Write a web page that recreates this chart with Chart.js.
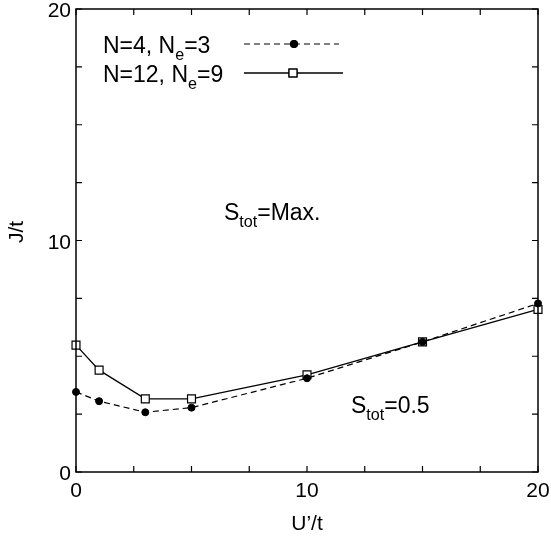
<!DOCTYPE html>
<html>
<head>
<meta charset="utf-8">
<script src="https://cdn.jsdelivr.net/npm/chart.js@4.4.1/dist/chart.umd.min.js"></script>
<style>
  html, body { margin: 0; padding: 0; background: #fff; }
  #wrap { width: 551px; height: 541px; position: relative; }
</style>
</head>
<body>
<div id="wrap"><canvas id="myChart" width="551" height="541"></canvas></div>
<script>
// U'/t values where J/t was computed
const uValues = [0, 1, 3, 5, 10, 15, 20];
// N=4, Ne=3 (dashed, filled circles)
const jSmall = [3.46, 3.06, 2.58, 2.78, 4.05, 5.62, 7.28];
// N=12, Ne=9 (solid, open squares)
const jLarge = [5.48, 4.40, 3.16, 3.16, 4.20, 5.62, 7.02];

const xTickLabels = [0, 10, 20];
const yTickLabels = [0, 10, 20];
const minorStep = 2.5;

const FONT = '"Liberation Sans", Arial, sans-serif';

// draws text made of normal + subscript pieces, left aligned at baseline y
function drawRich(ctx, parts, x, y, size) {
  let cx = x;
  parts.forEach(p => {
    const fs = p.sub ? size * 0.7 : size;
    ctx.font = fs + 'px ' + FONT;
    ctx.fillText(p.t, cx, p.sub ? y + size * 0.29 : y);
    cx += ctx.measureText(p.t).width;
  });
}

const framePlugin = {
  id: 'frame',
  afterDraw(chart) {
    const ctx = chart.ctx;
    const a = chart.chartArea;
    const xs = chart.scales.x, ys = chart.scales.y;
    ctx.save();
    ctx.strokeStyle = '#000';
    ctx.fillStyle = '#000';
    ctx.lineWidth = 1.5;
    ctx.strokeRect(a.left, a.top, a.right - a.left, a.bottom - a.top);

    // inward ticks on all four sides
    const tl = 6;
    ctx.lineWidth = 1.2;
    ctx.beginPath();
    for (let v = 0; v <= 20 + 1e-9; v += minorStep) {
      const px = xs.getPixelForValue(v);
      ctx.moveTo(px, a.bottom); ctx.lineTo(px, a.bottom - tl);
      ctx.moveTo(px, a.top); ctx.lineTo(px, a.top + tl);
      const py = ys.getPixelForValue(v);
      ctx.moveTo(a.left, py); ctx.lineTo(a.left + tl, py);
      ctx.moveTo(a.right, py); ctx.lineTo(a.right - tl, py);
    }
    ctx.stroke();

    // tick labels
    ctx.font = '21px ' + FONT;
    ctx.textAlign = 'center';
    ctx.textBaseline = 'alphabetic';
    xTickLabels.forEach(v => {
      ctx.fillText(String(v), xs.getPixelForValue(v), a.bottom + 25);
    });
    ctx.textAlign = 'right';
    yTickLabels.forEach(v => {
      ctx.fillText(String(v), a.left - 5, ys.getPixelForValue(v) + 8);
    });

    // axis titles
    ctx.textAlign = 'center';
    ctx.fillText('U\u2019/t', (a.left + a.right) / 2, a.bottom + 58);
    ctx.save();
    ctx.translate(23, 232);
    ctx.rotate(-Math.PI / 2);
    ctx.fillText('J/t', 0, 0);
    ctx.restore();

    // annotations
    ctx.textAlign = 'left';
    drawRich(ctx, [{t: 'S'}, {t: 'tot', sub: true}, {t: '=Max.'}], 224, 220, 23);
    drawRich(ctx, [{t: 'S'}, {t: 'tot', sub: true}, {t: '=0.5'}], 351, 413, 23);

    // legend
    const legend = [
      {parts: [{t: 'N=4, N'}, {t: 'e', sub: true}, {t: '=3'}], y: 44, x1: 244, x2: 339, mx: 294, ds: chart.data.datasets[0]},
      {parts: [{t: 'N=12, N'}, {t: 'e', sub: true}, {t: '=9'}], y: 73, x1: 244, x2: 343, mx: 293, ds: chart.data.datasets[1]}
    ];
    legend.forEach(l => {
      drawRich(ctx, l.parts, 103, l.y + 9, 23);
      ctx.lineWidth = l.ds.borderWidth;
      ctx.setLineDash(l.ds.borderDash || []);
      ctx.beginPath();
      ctx.moveTo(l.x1, l.y); ctx.lineTo(l.x2, l.y);
      ctx.stroke();
      ctx.setLineDash([]);
      Chart.helpers.drawPoint(ctx, {
        pointStyle: l.ds.pointStyle,
        radius: l.ds.pointRadius,
        borderWidth: l.ds.pointBorderWidth,
        rotation: 0
      }, l.mx, l.y);
      ctx.fillStyle = l.ds.pointBackgroundColor;
      ctx.strokeStyle = '#000';
      ctx.lineWidth = l.ds.pointBorderWidth;
      ctx.fill();
      ctx.stroke();
      ctx.fillStyle = '#000';
    });
    ctx.restore();
  }
};

const ctx = document.getElementById('myChart').getContext('2d');

const data = {
  datasets: [{
    label: 'N=4, Ne=3',
    data: uValues.map((u, i) => ({x: u, y: jSmall[i]})),
    showLine: true,
    clip: false,
    borderColor: '#000',
    borderWidth: 1.2,
    borderDash: [6, 4],
    pointStyle: 'circle',
    pointRadius: 3.5,
    pointBorderWidth: 1,
    pointBackgroundColor: '#000',
    pointBorderColor: '#000'
  }, {
    label: 'N=12, Ne=9',
    data: uValues.map((u, i) => ({x: u, y: jLarge[i]})),
    showLine: true,
    clip: false,
    borderColor: '#000',
    borderWidth: 1.3,
    pointStyle: 'rect',
    pointRadius: 5.6,
    pointBorderWidth: 1.2,
    pointBackgroundColor: '#fff',
    pointBorderColor: '#000'
  }]
};

const config = {
  type: 'scatter',
  data: data,
  options: {
    responsive: false,
    animation: false,
    layout: { padding: { top: 9, right: 13, left: 0, bottom: 0 } },
    plugins: { legend: { display: false }, tooltip: { enabled: false } },
    scales: {
      x: {
        type: 'linear', min: 0, max: 20,
        grid: { display: false }, border: { display: false },
        ticks: { display: false },
        afterFit(scale) { scale.height = 69; }
      },
      y: {
        type: 'linear', min: 0, max: 20,
        grid: { display: false }, border: { display: false },
        ticks: { display: false },
        afterFit(scale) { scale.width = 76; }
      }
    }
  },
  plugins: [framePlugin]
};

const chart = new Chart(ctx, config);
</script>
</body>
</html>
